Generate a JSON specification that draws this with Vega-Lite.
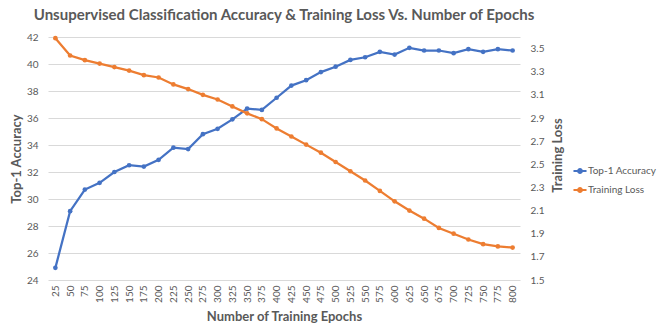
{
  "$schema": "https://vega.github.io/schema/vega-lite/v6.json",
  "autosize": "none",
  "width": 472,
  "height": 243,
  "padding": {"left": 48, "top": 37, "right": 144, "bottom": 52},
  "background": "white",
  "title": {
    "text": "Unsupervised Classification Accuracy & Training Loss Vs. Number of Epochs",
    "font": "Lato",
    "fontSize": 15,
    "fontWeight": "bold",
    "color": "#595959",
    "anchor": "middle",
    "offset": 9
  },
  "config": {
    "view": {"stroke": null},
    "axis": {
      "labelFont": "Lato",
      "labelColor": "#595959",
      "labelFontSize": 10,
      "titleFont": "Lato",
      "titleColor": "#595959",
      "titleFontSize": 13,
      "titleFontWeight": "bold",
      "ticks": false,
      "domain": false,
      "gridColor": "#D9D9D9",
      "gridWidth": 1
    },
    "legend": {
      "labelFont": "Lato",
      "labelColor": "#595959",
      "labelFontSize": 10
    }
  },
  "data": {
    "values": [
      {"epoch": 25, "accuracy": 24.9, "loss": 3.59},
      {"epoch": 50, "accuracy": 29.1, "loss": 3.44},
      {"epoch": 75, "accuracy": 30.7, "loss": 3.40},
      {"epoch": 100, "accuracy": 31.2, "loss": 3.37},
      {"epoch": 125, "accuracy": 32.0, "loss": 3.34},
      {"epoch": 150, "accuracy": 32.5, "loss": 3.31},
      {"epoch": 175, "accuracy": 32.4, "loss": 3.27},
      {"epoch": 200, "accuracy": 32.9, "loss": 3.25},
      {"epoch": 225, "accuracy": 33.8, "loss": 3.19},
      {"epoch": 250, "accuracy": 33.7, "loss": 3.15},
      {"epoch": 275, "accuracy": 34.8, "loss": 3.10},
      {"epoch": 300, "accuracy": 35.2, "loss": 3.06},
      {"epoch": 325, "accuracy": 35.9, "loss": 3.00},
      {"epoch": 350, "accuracy": 36.7, "loss": 2.94},
      {"epoch": 375, "accuracy": 36.6, "loss": 2.89},
      {"epoch": 400, "accuracy": 37.5, "loss": 2.81},
      {"epoch": 425, "accuracy": 38.4, "loss": 2.74},
      {"epoch": 450, "accuracy": 38.8, "loss": 2.67},
      {"epoch": 475, "accuracy": 39.4, "loss": 2.60},
      {"epoch": 500, "accuracy": 39.8, "loss": 2.52},
      {"epoch": 525, "accuracy": 40.3, "loss": 2.44},
      {"epoch": 550, "accuracy": 40.5, "loss": 2.36},
      {"epoch": 575, "accuracy": 40.9, "loss": 2.27},
      {"epoch": 600, "accuracy": 40.7, "loss": 2.18},
      {"epoch": 625, "accuracy": 41.2, "loss": 2.10},
      {"epoch": 650, "accuracy": 41.0, "loss": 2.03},
      {"epoch": 675, "accuracy": 41.0, "loss": 1.95},
      {"epoch": 700, "accuracy": 40.8, "loss": 1.90},
      {"epoch": 725, "accuracy": 41.1, "loss": 1.85},
      {"epoch": 750, "accuracy": 40.9, "loss": 1.81},
      {"epoch": 775, "accuracy": 41.1, "loss": 1.79},
      {"epoch": 800, "accuracy": 41.0, "loss": 1.78}
    ]
  },
  "encoding": {
    "x": {
      "field": "epoch",
      "type": "ordinal",
      "scale": {"type": "point", "padding": 0.5},
      "axis": {
        "title": "Number of Training Epochs",
        "labelAngle": -90,
        "labelPadding": 5,
        "titlePadding": 8,
        "grid": false
      }
    }
  },
  "layer": [
    {
      "mark": {"type": "line", "strokeWidth": 2.25, "point": {"filled": true, "size": 22}},
      "encoding": {
        "y": {
          "field": "accuracy",
          "type": "quantitative",
          "scale": {"domain": [24, 42], "nice": false, "zero": false},
          "axis": {
            "title": "Top-1 Accuracy",
            "orient": "left",
            "values": [24, 26, 28, 30, 32, 34, 36, 38, 40, 42],
            "grid": true,
            "labelPadding": 10,
            "titlePadding": 3
          }
        },
        "color": {
          "datum": "Top-1 Accuracy",
          "type": "nominal",
          "scale": {"domain": ["Top-1 Accuracy", "Training Loss"], "range": ["#4472C4", "#ED7D31"]},
          "legend": {
            "title": null,
            "orient": "none",
            "legendX": 524,
            "legendY": 126,
            "symbolType": "M-1,0H1M0.3,0A0.3,0.3,0,1,1,-0.3,0A0.3,0.3,0,1,1,0.3,0",
            "symbolSize": 170,
            "symbolStrokeWidth": 2,
            "rowPadding": 5,
            "labelOffset": 0
          }
        }
      }
    },
    {
      "mark": {"type": "line", "strokeWidth": 2.25, "point": {"filled": true, "size": 22}},
      "encoding": {
        "y": {
          "field": "loss",
          "type": "quantitative",
          "scale": {"domain": [1.5, 3.6], "nice": false, "zero": false},
          "axis": {
            "title": "Training Loss",
            "orient": "right",
            "values": [1.5, 1.7, 1.9, 2.1, 2.3, 2.5, 2.7, 2.9, 3.1, 3.3, 3.5],
            "format": ".1f",
            "grid": false,
            "labelPadding": 10,
            "titleAngle": 270,
            "titleX": 37,
            "titleY": 118,
            "titleAlign": "center",
            "titleBaseline": "middle"
          }
        },
        "color": {"datum": "Training Loss", "type": "nominal"}
      }
    }
  ],
  "resolve": {"scale": {"y": "independent"}}
}
